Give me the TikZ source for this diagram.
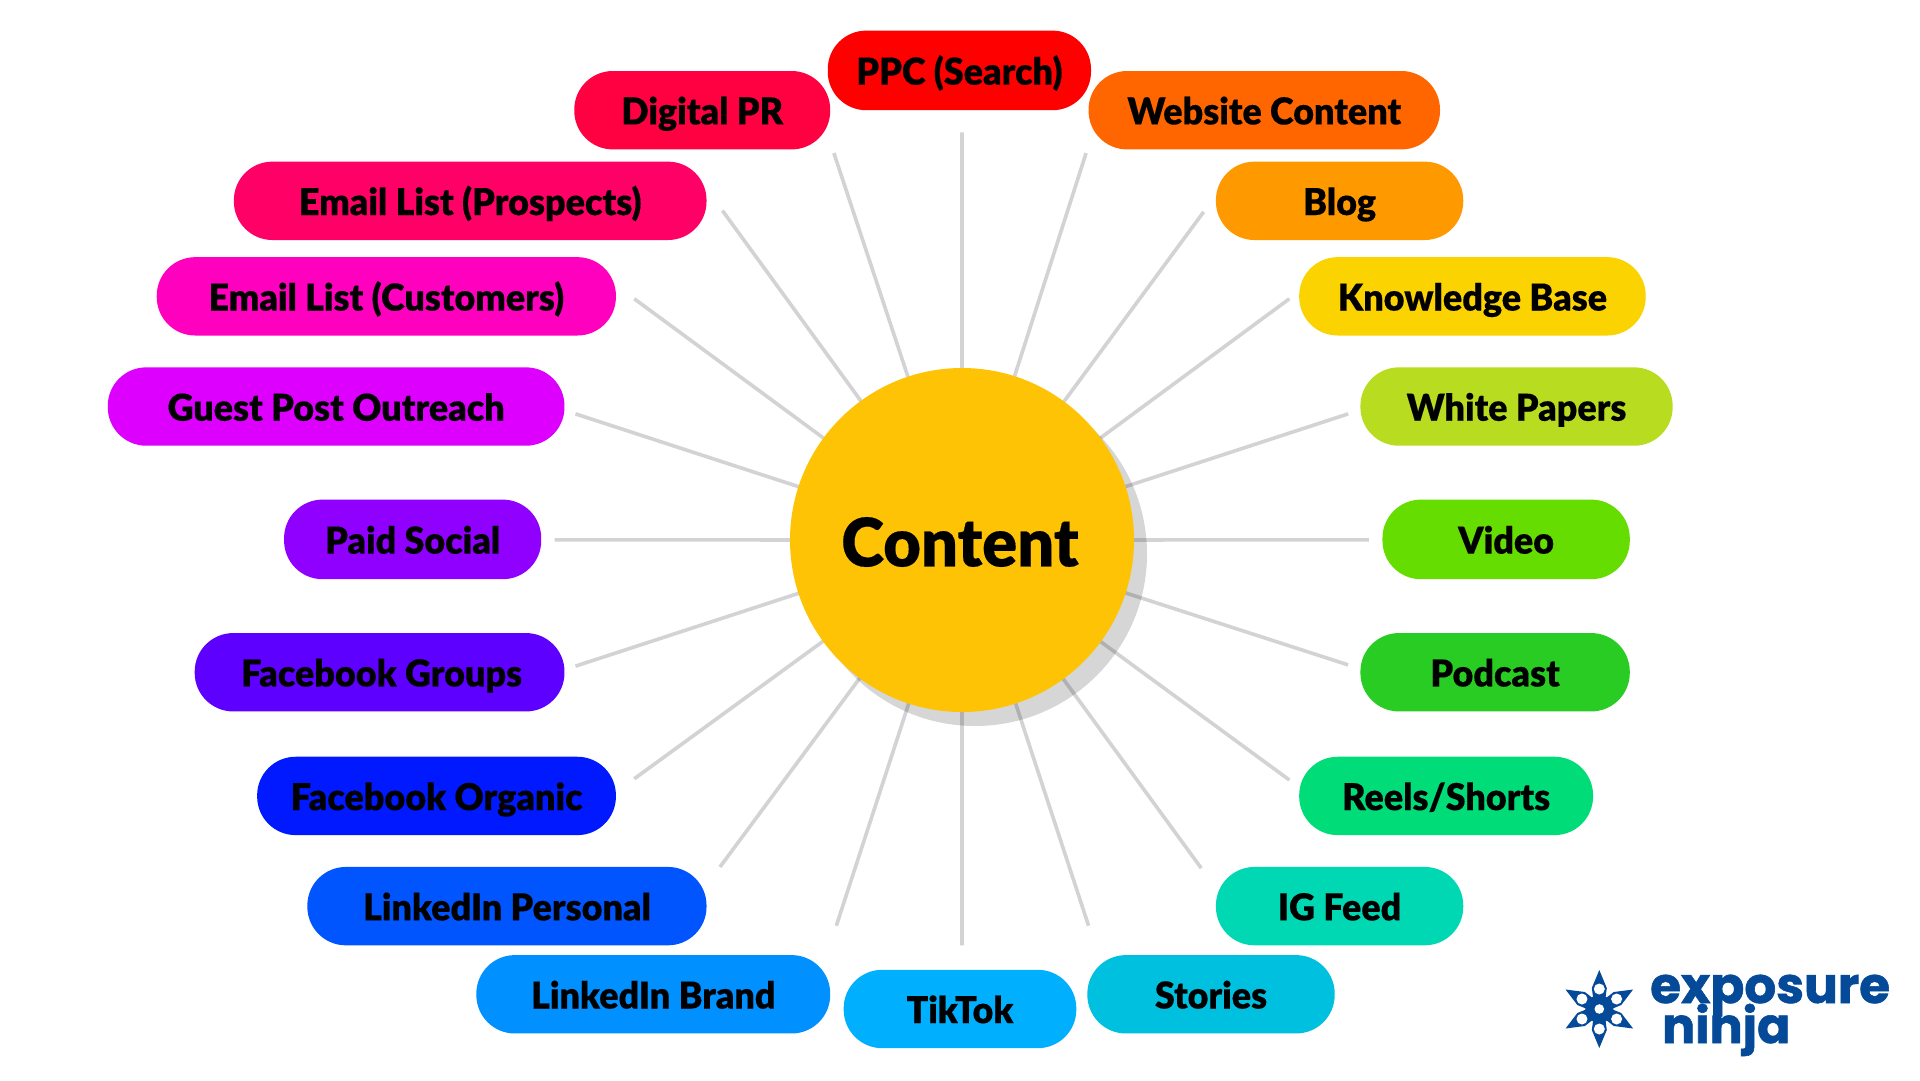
\documentclass[tikz,border=0pt]{standalone}
\usepackage{fontspec}
\setmainfont{Lato}[UprightFont=* Black,FakeBold=0.25,FakeStretch=0.97]
\newfontfamily\logofont{Poppins}[UprightFont=* Bold,FakeBold=1.2]
\usetikzlibrary{calc}
\definecolor{spokec}{HTML}{D3D3D6}
\definecolor{ninja}{HTML}{044A98}
\definecolor{hubc}{HTML}{FFC305}
\tikzset{
  pill/.style={rounded corners=38.5pt,inner sep=0pt,text=black,font=\fontsize{37}{37}\selectfont,text height=28.4pt,text depth=0pt,align=center},
  spoke/.style={draw=spokec,line width=3.6pt},
  hub/.style={circle,fill=#1,minimum size=344pt,inner sep=0pt},
  logotext/.style={text=ninja,inner sep=0pt,anchor=base west}
}
% name, x0, x1, y0, y1 (1568-wide measure), colour, text
\newcommand\pill[7]{%
  \pgfmathsetmacro\pcx{(#2+#3)/2*1.22449}%
  \pgfmathsetmacro\pcy{(#4+#5)/2*1.22449}%
  \pgfmathsetmacro\pw{(#3-#2)*1.22449}%
  \pgfmathsetmacro\ph{(#5-#4)*1.22449}%
  \definecolor{pc#1}{HTML}{#6}%
  \path node[pill,fill=pc#1,rectangle,minimum width=\pw pt,minimum height=\ph pt] (#1) at (\pcx,\pcy) {#7};%
}
\newcommand\spokeend[3]{\coordinate (#1) at ({#2*1.22449},{#3*1.22449});}
\begin{document}
\begin{tikzpicture}[x=1pt,y=-1pt]
\useasboundingbox (0,0) rectangle (1920,1080);
\fill[white] (0,0) rectangle (1920,1080);
\coordinate (hubpt) at (962,540);
\spokeend{e0}{785.6}{108}
\spokeend{e1}{887}{125}
\spokeend{e2}{983}{173}
\spokeend{e3}{1053}{244}
\spokeend{e4}{1101}{338}
\spokeend{e5}{1118}{440.9}
\spokeend{e6}{1101}{543}
\spokeend{e7}{1053}{637}
\spokeend{e8}{981}{709}
\spokeend{e9}{889}{756}
\spokeend{e10}{785.6}{772}
\spokeend{e11}{683}{756}
\spokeend{e12}{588}{708}
\spokeend{e13}{518}{636}
\spokeend{e14}{470}{544}
\spokeend{e15}{453}{440.9}
\spokeend{e16}{470}{338}
\spokeend{e17}{518}{244}
\spokeend{e18}{590}{172}
\spokeend{e19}{681}{125}
\foreach \i in {0,...,19} \draw[spoke] (hubpt) -- (e\i);
\fill[black,opacity=.16] (975,554) circle[radius=172];
\node[hub=hubc,text=black] (content) at (hubpt) {};
\node[font=\fontsize{67}{67}\selectfont,text=black,inner sep=0pt] (contentlabel) at (960,542) {Content};

\pill{ppc}{676}{891}{25}{90}{FF0000}{PPC (Search)}
\pill{dpr}{469}{678}{58}{122}{FF0040}{Digital PR}
\pill{web}{889}{1176}{58}{122}{FF6600}{Website Content}
\pill{elp}{191}{577}{132}{196}{FF0066}{Email List (Prospects)}
\pill{blog}{993}{1195}{132}{196}{FF9900}{Blog}
\pill{elc}{128}{503}{210}{274}{FF00BF}{Email List (Customers)}
\pill{kb}{1061}{1344}{210}{274}{FBD300}{Knowledge Base}
\pill{guest}{88}{461}{300}{364}{DD00FF}{Guest Post Outreach}
\pill{wp}{1111}{1366}{300}{364}{B8DC20}{White Papers}
\pill{paid}{232}{442}{408}{473}{8F00FF}{Paid Social}
\pill{video}{1129}{1331}{408}{473}{66DD00}{Video}
\pill{fbg}{159}{461}{517}{581}{5D00FF}{\hspace{4pt}Facebook Groups}
\pill{pod}{1111}{1331}{517}{581}{29CC22}{Podcast}
\pill{fbo}{210}{503}{618}{682}{0019FF}{Facebook Organic}
\pill{reels}{1061}{1301}{618}{682}{00DC78}{Reels/Shorts}
\pill{lip}{251}{577}{708}{772}{0055FF}{LinkedIn Personal}
\pill{ig}{993}{1195}{708}{772}{00D8B4}{IG Feed}
\pill{lib}{389}{678}{780}{844}{0090FF}{LinkedIn Brand}
\pill{tt}{689}{879}{792}{856}{00B0FF}{TikTok}
\pill{st}{888}{1090}{780}{844}{00C0E0}{Stories}

% logo mark
\begin{scope}[shift={(1599.3,1009)}]
  \foreach \a in {0,60,...,300}
    \fill[ninja,rotate=\a] (0,-39) -- (7.5,-21) -- (6,-10) -- (-6,-10) -- (-7.5,-21) -- cycle;
  \fill[ninja] (0,0) circle[radius=14];
  \foreach \a in {30,90,...,330}
    \fill[white] (\a:20) circle[radius=5.5];
  \fill[white] (0,0) circle[radius=4.8];
\end{scope}
\node[logotext,font=\logofont\fontsize{50}{50}\selectfont] (logoa) at (1650,1003) {exposure};
\node[logotext,font=\logofont\fontsize{49}{49}\selectfont] (logob) at (1662,1043) {ninja};
\end{tikzpicture}
\end{document}
